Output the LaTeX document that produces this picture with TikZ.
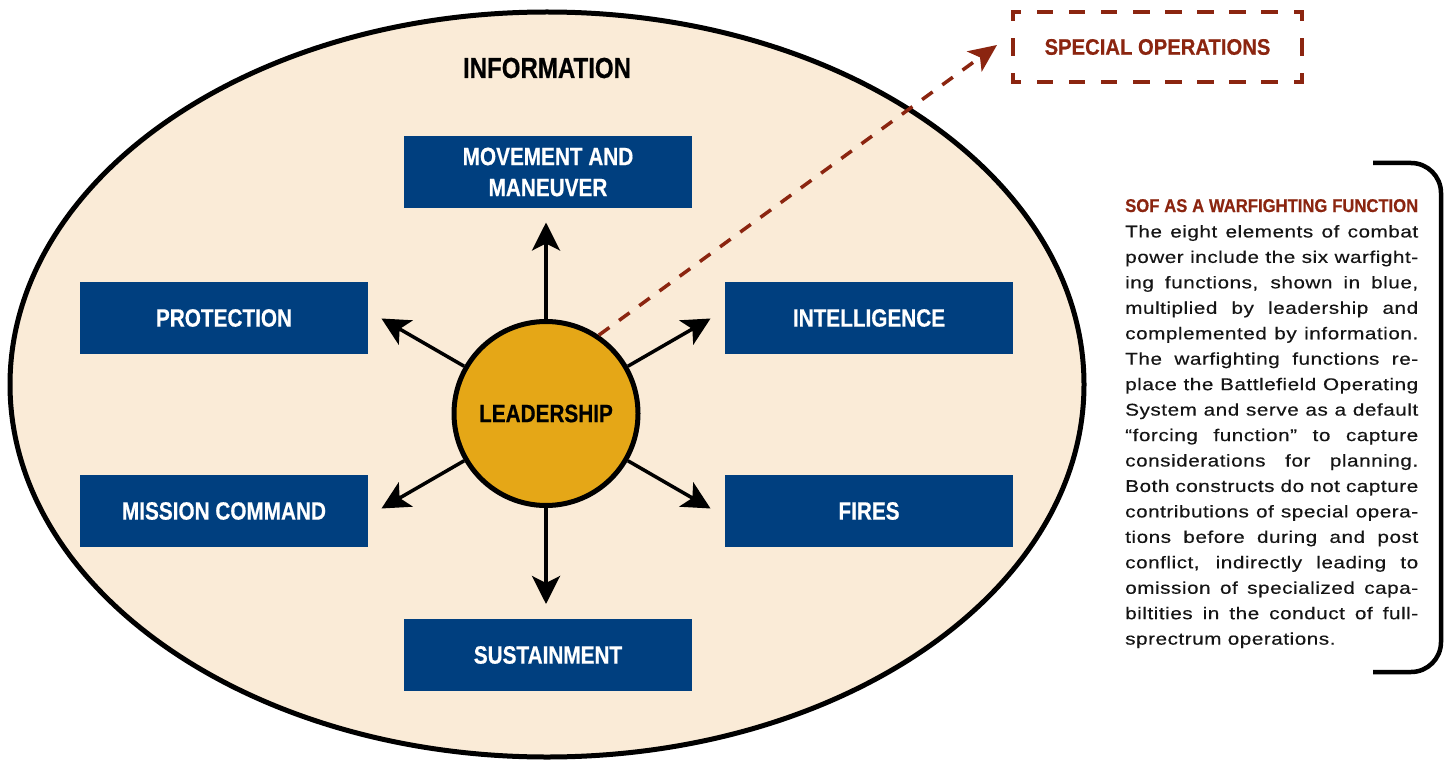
\documentclass[tikz,border=0pt]{standalone}
\usepackage{fontspec}
\setmainfont{Liberation Sans}
\newfontfamily\condfont{Liberation Sans}[FakeStretch=0.83,FakeBold=0.5]
\newfontfamily\headfont{Liberation Sans}[FakeStretch=0.9,FakeBold=0.5]
\newfontfamily\bodyfont{Liberation Sans}[FakeStretch=1.22,LetterSpace=3,FakeBold=0.4]
\usetikzlibrary{arrows.meta}
\definecolor{cream}{HTML}{FAEBD7}
\definecolor{navy}{HTML}{003F7F}
\definecolor{gold}{HTML}{E5A717}
\definecolor{rust}{HTML}{8B2510}
\definecolor{ink}{HTML}{151515}
% one justified line of the side note
\newcommand{\sideline}[1]{\makebox[293pt][s]{#1}\par}
\tikzset{
  fnbox/.style={fill=navy, text=white, minimum width=288pt, minimum height=72pt,
    inner sep=0pt, align=center, font=\condfont\bfseries\fontsize{25}{31}\selectfont},
  spoke/.style={line width=3.5pt, -{Stealth[length=28pt,width=28pt,inset=7pt]}},
  sodash/.style={rust, line width=3.5pt, dash pattern=on 13pt off 12pt,
    -{Stealth[length=28pt,width=25pt,inset=7pt]}},
  sobox/.style={rust, line width=4.5pt, line cap=rect},
}
\begin{document}
\begin{tikzpicture}[x=1pt,y=-1pt]
\useasboundingbox (0,0) rectangle (1453,762);

% information ellipse
\draw[fill=cream, line width=5pt] (547,384.5) ellipse [x radius=537, y radius=372.5];
\node[anchor=base, inner sep=0pt, font=\condfont\bfseries\fontsize{29}{34}\selectfont] (info) at (547,78) {INFORMATION};

% warfighting functions
\node[fnbox] (mm) at (548,172) {MOVEMENT AND\\MANEUVER};
\node[fnbox] (prot) at (224,318) {PROTECTION};
\node[fnbox] (intel) at (869,318) {INTELLIGENCE};
\node[fnbox] (mc) at (224,511) {MISSION COMMAND};
\node[fnbox] (fires) at (869,511) {FIRES};
\node[fnbox] (sust) at (548,655) {SUSTAINMENT};

% special operations box
\node[inner sep=0pt, minimum width=289pt, minimum height=70pt, text=rust,
  font=\headfont\bfseries\fontsize{22.5}{26}\selectfont] (so) at (1157.5,47) {SPECIAL OPERATIONS};
\draw[sobox, dash pattern=on 12pt off 20.11pt, dash phase=6pt] (so.north west) -- (so.north east);
\draw[sobox, dash pattern=on 12pt off 20.11pt, dash phase=6pt] (so.south west) -- (so.south east);
\draw[sobox, dash pattern=on 13pt off 22pt, dash phase=6.5pt] (so.north west) -- (so.south west);
\draw[sobox, dash pattern=on 13pt off 22pt, dash phase=6.5pt] (so.north east) -- (so.south east);

% leadership
\coordinate (lc) at (546,413.5);
\coordinate (soTip) at (997,45);
\node[circle, minimum size=184pt, inner sep=0pt, fill=gold, draw=black, line width=5pt,
  font=\condfont\bfseries\fontsize{25}{30}\selectfont] (lead) at (lc) {LEADERSHIP};
\draw[sodash] (lead.56) -- (soTip);

\path (lc) +(90:191pt) coordinate (tN)
           +(30:190pt) coordinate (tNE)
           +(150:190pt) coordinate (tNW)
           +(210:190pt) coordinate (tSW)
           +(330:190pt) coordinate (tSE)
           +(270:190.5pt) coordinate (tS);
\draw[spoke] (lead.north) -- (tN);
\draw[spoke] (lead.30) -- (tNE);
\draw[spoke] (lead.150) -- (tNW);
\draw[spoke] (lead.210) -- (tSW);
\draw[spoke] (lead.330) -- (tSE);
\draw[spoke] (lead.south) -- (tS);

% side note
\node[anchor=base west, inner sep=0pt, text=ink] (note) at (1125,212) {\parbox[t]{293pt}{%
  \setlength{\parindent}{0pt}\fontsize{17}{25.45}\selectfont
  \sideline{\color{rust}\headfont\bfseries\fontsize{18.5}{25.45}\selectfont SOF AS A WARFIGHTING FUNCTION}%
  \bodyfont
  \sideline{The eight elements of combat}
  \sideline{power include the six warfight-}
  \sideline{ing functions, shown in blue,}
  \sideline{multiplied by leadership and}
  \sideline{complemented by information.}
  \sideline{The warfighting functions re-}
  \sideline{place the Battlefield Operating}
  \sideline{System and serve as a default}
  \sideline{“forcing function” to capture}
  \sideline{considerations for planning.}
  \sideline{Both constructs do not capture}
  \sideline{contributions of special opera-}
  \sideline{tions before during and post}
  \sideline{conflict, indirectly leading to}
  \sideline{omission of specialized capa-}
  \sideline{biltities in the conduct of full-}
  sprectrum operations.}};
\coordinate (brTop) at (1373,163);
\coordinate (brBot) at (1373,672);
\draw[line width=4.5pt, rounded corners=30pt] (brTop) -| (1441,672) -- (brBot);
\end{tikzpicture}
\end{document}
